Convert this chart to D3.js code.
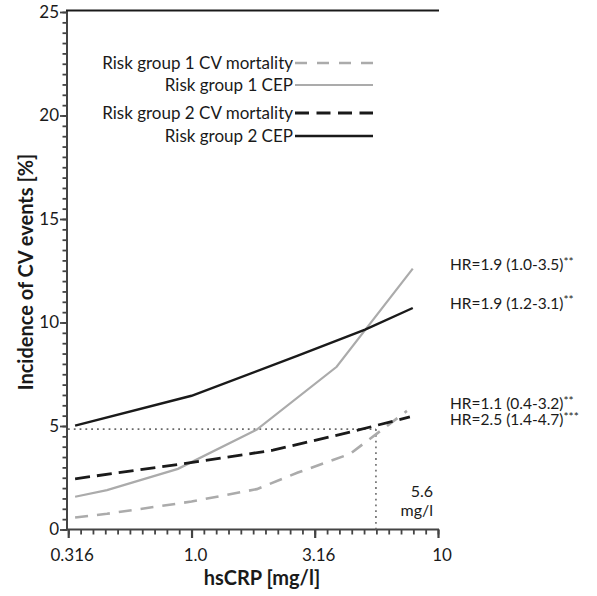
<!DOCTYPE html>
<html>
<head>
<meta charset="utf-8">
<script src="https://cdn.jsdelivr.net/npm/d3@7"></script>
<style>
  body { margin: 0; background: #fff; }
  text { font-family: Lato, "Noto Sans", sans-serif; fill: #1a1a1a; }
</style>
</head>
<body>
<svg id="chart" width="597" height="596"></svg>
<script>
// Axis ticks
const xTickValues = [0.316, 1.0, 3.16, 10];
const xTickLabels = ["0.316", "1.0", "3.16", "10"];
const yTickValues = [0, 5, 10, 15, 20, 25];

// Incidence (%) against hsCRP (mg/l), one pair of arrays per curve
const group1MortCrp = [0.337, 0.454, 1.0, 1.84, 2.70, 4.39, 7.48];
const group1MortInc = [0.58, 0.76, 1.35, 1.95, 2.75, 3.65, 5.73];
const group1CepCrp  = [0.337, 0.454, 0.881, 1.84, 3.88, 7.9];
const group1CepInc  = [1.58, 1.90, 2.93, 4.83, 7.86, 12.6];
const group2MortCrp = [0.337, 0.881, 2.14, 4.39, 7.69];
const group2MortInc = [2.45, 3.14, 3.83, 4.70, 5.44];
const group2CepCrp  = [0.337, 1.0, 2.70, 5.06, 7.9];
const group2CepInc  = [5.02, 6.46, 8.4, 9.66, 10.7];

const seriesNames = ["Risk group 1 CV mortality", "Risk group 1 CEP",
                     "Risk group 2 CV mortality", "Risk group 2 CEP"];

// Hazard ratios shown at the right-hand end of the curves
const hrMain  = ["HR=1.9 (1.0-3.5)", "HR=1.9 (1.2-3.1)", "HR=1.1 (0.4-3.2)", "HR=2.5 (1.4-4.7)"];
const hrStars = ["**", "**", "**", "***"];

// Cut-off marker
const cutoffCrp = 5.6;
const cutoffInc = 4.85;
const cutoffLabel = ["5.6", "mg/l"];

const svg = d3.select("#chart");

const x = d3.scaleLog().domain([Math.pow(10, -0.5), 10]).range([68.3, 438]);
const y = d3.scaleLinear().domain([0, 25]).range([529.5, 12]);

const axisColor = "#444";

// minor tick positions: every 0.05 decade on x, every 0.5 % on y
const xMinor = d3.range(-0.5, 1.0001, 0.05).map(e => Math.pow(10, e));
const yMinor = d3.range(0, 25.001, 0.5);

function styleAxis(g, width) {
  g.select(".domain").remove();
  g.selectAll(".tick line").attr("stroke", axisColor).attr("stroke-width", width);
  g.selectAll(".tick text").remove();
}

// x axis: minor and major ticks
svg.append("g").attr("transform", `translate(0,${y(0)})`)
  .call(d3.axisBottom(x).tickValues(xMinor).tickSize(5).tickFormat(""))
  .call(g => styleAxis(g, 1.8));
svg.append("g").attr("transform", `translate(0,${y(0)})`)
  .call(d3.axisBottom(x).tickValues(xTickValues).tickSize(8.5).tickFormat(""))
  .call(g => styleAxis(g, 2.2));
svg.append("line")
  .attr("x1", 66).attr("x2", x(10) + 1)
  .attr("y1", y(0)).attr("y2", y(0))
  .attr("stroke", axisColor).attr("stroke-width", 2);
svg.selectAll("text.xtick").data(xTickValues).join("text")
  .attr("class", "xtick")
  .attr("x", d => x(d) + 4).attr("y", y(0) + 31)
  .attr("text-anchor", "middle")
  .attr("font-size", 17)
  .text((d, i) => xTickLabels[i]);

// y axis: minor and major ticks
svg.append("g").attr("transform", "translate(67,0)")
  .call(d3.axisLeft(y).tickValues(yMinor).tickSize(4.5).tickFormat(""))
  .call(g => styleAxis(g, 1.8));
svg.append("g").attr("transform", "translate(67,0)")
  .call(d3.axisLeft(y).tickValues(yTickValues).tickSize(7).tickFormat(""))
  .call(g => styleAxis(g, 1.8));
svg.append("line")
  .attr("x1", 67).attr("x2", 67)
  .attr("y1", y(0) + 1).attr("y2", y(25) - 2)
  .attr("stroke", axisColor).attr("stroke-width", 2);
svg.selectAll("text.ytick").data(yTickValues).join("text")
  .attr("class", "ytick")
  .attr("x", 59).attr("y", d => y(d))
  .attr("dy", "0.35em")
  .attr("text-anchor", "end")
  .attr("font-size", 17)
  .text(d => d);

// top frame line
svg.append("line")
  .attr("x1", 66).attr("x2", x(10) + 1)
  .attr("y1", y(25) - 1.5).attr("y2", y(25) - 1.5)
  .attr("stroke", "#1a1a1a").attr("stroke-width", 2);

// axis titles
svg.append("text")
  .attr("x", 262).attr("y", 585)
  .attr("text-anchor", "middle")
  .attr("font-size", 20).attr("font-weight", "bold")
  .text("hsCRP [mg/l]");
svg.append("text")
  .attr("transform", "translate(33,272) rotate(-90)")
  .attr("text-anchor", "middle")
  .attr("font-size", 20).attr("font-weight", "bold")
  .text("Incidence of CV events [%]");

// cut-off guide lines
const dotStyle = s => s.attr("stroke", "#6a6a6a").attr("stroke-width", 1.6)
  .attr("stroke-dasharray", "1.8,4").attr("fill", "none");
svg.append("line")
  .attr("x1", 68).attr("x2", x(cutoffCrp))
  .attr("y1", y(cutoffInc)).attr("y2", y(cutoffInc))
  .call(dotStyle);
svg.append("line")
  .attr("x1", x(cutoffCrp)).attr("x2", x(cutoffCrp))
  .attr("y1", y(cutoffInc)).attr("y2", y(0))
  .call(dotStyle);
svg.selectAll("text.cut").data(cutoffLabel).join("text")
  .attr("class", "cut")
  .attr("x", 433).attr("y", (d, i) => 497 + i * 19)
  .attr("text-anchor", "end")
  .attr("font-size", 16)
  .text(d => d);

// curves
const styles = [
  { color: "#ababab", width: 2.6, dash: "13,9" },
  { color: "#ababab", width: 2.2, dash: null },
  { color: "#1a1a1a", width: 2.8, dash: "15,7" },
  { color: "#1a1a1a", width: 2.4, dash: null }
];
const seriesData = [
  group1MortCrp.map((c, i) => [c, group1MortInc[i]]),
  group1CepCrp.map((c, i) => [c, group1CepInc[i]]),
  group2MortCrp.map((c, i) => [c, group2MortInc[i]]),
  group2CepCrp.map((c, i) => [c, group2CepInc[i]])
];
const line = d3.line().x(d => x(d[0])).y(d => y(d[1]));
svg.selectAll("path.curve").data(seriesData).join("path")
  .attr("class", "curve")
  .attr("d", line)
  .attr("fill", "none")
  .attr("stroke", (d, i) => styles[i].color)
  .attr("stroke-width", (d, i) => styles[i].width)
  .attr("stroke-dasharray", (d, i) => styles[i].dash);

// legend
const legendY = [63, 85, 113, 136];
const lg = svg.append("g");
seriesNames.forEach((name, i) => {
  lg.append("text")
    .attr("x", 293).attr("y", legendY[i]).attr("dy", "0.33em")
    .attr("text-anchor", "end").attr("font-size", 17)
    .text(name);
  lg.append("line")
    .attr("x1", 295).attr("x2", 373)
    .attr("y1", legendY[i]).attr("y2", legendY[i])
    .attr("stroke", styles[i].color)
    .attr("stroke-width", styles[i].width)
    .attr("stroke-dasharray", styles[i].dash ? (i === 0 ? "12,10" : "14,7.5") : null);
});

// hazard ratio labels
const hrY = [265, 303.5, 404, 420];
hrMain.forEach((t, i) => {
  const tx = svg.append("text")
    .attr("x", 450).attr("y", hrY[i]).attr("dy", "0.35em")
    .attr("font-size", 15.5);
  tx.append("tspan").text(t);
  tx.append("tspan").attr("font-size", 12).attr("dy", "-0.4em").text(hrStars[i]);
});
</script>
</body>
</html>
